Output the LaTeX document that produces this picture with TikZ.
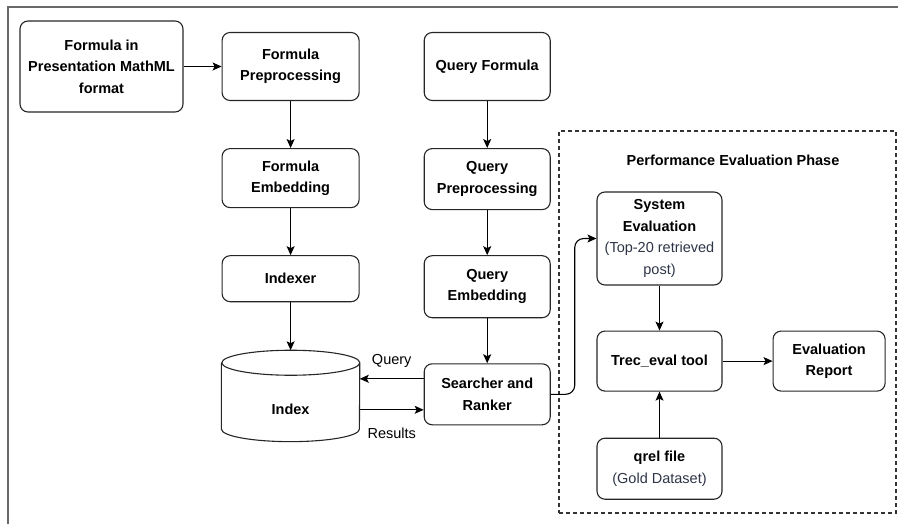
\documentclass[tikz,border=0pt]{standalone}
\usepackage{fontspec}
\setmainfont{Liberation Sans}
\usepackage{xcolor}
\usetikzlibrary{arrows.meta, positioning}
\definecolor{notegray}{RGB}{45,52,70}
\definecolor{framegray}{RGB}{105,105,105}
\newcommand{\diafont}{\fontsize{14.5}{21.5}\selectfont}
\tikzstyle{process} = [rectangle, rounded corners=8pt, text centered, align=center, draw=black!85, line width=1.1pt, font=\diafont\bfseries]
\tikzstyle{store} = [rectangle, minimum width=138pt, minimum height=91pt]
\tikzstyle{phase} = [rectangle, draw=black!80, line width=1.1pt, dash pattern=on 4pt off 3pt]
\tikzstyle{arrow} = [line width=1.1pt, ->, >={Stealth[length=9pt,width=8pt,inset=2pt]}]

\begin{document}
\begin{tikzpicture}[x=1pt, y=1pt, node distance=46pt, font=\diafont]
\useasboundingbox (0,0) rectangle (898,-524);

% outer frame
\draw[framegray, line width=2pt] (7.5,-524) -- (7.5,-7.5) -- (898,-7.5);

% Formula side
\node (mathml) [process, minimum width=163pt, minimum height=91pt] at (101.5,-66.5) {Formula in\\Presentation MathML\\format};
\node (fprep) [process, minimum width=137pt, minimum height=68pt, right=38pt of mathml] {Formula\\Preprocessing};
\node (fembed) [process, minimum width=137pt, minimum height=59pt, below=47pt of fprep] {Formula\\Embedding};
\node (indexer) [process, minimum width=137pt, minimum height=46pt, below=47pt of fembed] {Indexer};
\node (index) [store, below=48pt of indexer] {};
\draw [draw=black!85, line width=1.1pt] ([yshift=-12.5pt]index.north west) -- ([yshift=12.5pt]index.south west)
  arc[start angle=180, end angle=360, x radius=69pt, y radius=12.5pt] -- ([yshift=-12.5pt]index.north east)
  arc[start angle=0, end angle=360, x radius=69pt, y radius=12.5pt];
\node (indextxt) [font=\diafont\bfseries] at ([yshift=-13pt]index.center) {Index};

% Query side
\node (qformula) [process, minimum width=126pt, minimum height=68pt, right=64pt of fprep] {Query Formula};
\node (qprep) [process, minimum width=126pt, minimum height=61pt, below=47pt of qformula] {Query\\Preprocessing};
\node (qembed) [process, minimum width=126pt, minimum height=62pt, below=45pt of qprep] {Query\\Embedding};
\node (searcher) [process, minimum width=126pt, minimum height=61pt, below=45pt of qembed] {Searcher and\\Ranker};

% Evaluation phase
\node (phasebox) [phase, minimum width=337pt, minimum height=382pt] at (727.5,-322) {};
\node (phasetitle) [font=\diafont\bfseries] at (733,-160) {Performance Evaluation Phase};
\node (syseval) [process, minimum width=125pt, minimum height=93pt] at (659.5,-238.5) {System\\Evaluation\\{\mdseries\color{notegray}(Top-20 retrieved}\\{\mdseries\color{notegray}post)}};
\node (trec) [process, minimum width=125pt, minimum height=60pt, below=45pt of syseval] {Trec\_eval tool};
\node (evalrep) [process, minimum width=112pt, minimum height=60pt, right=50pt of trec] {Evaluation\\Report};
\node (qrel) [process, minimum width=125pt, minimum height=61pt, below=46pt of trec] {qrel file\\{\mdseries\color{notegray}(Gold Dataset)}};

% connectors
\draw [arrow] (mathml) -- (fprep);
\draw [arrow] (fprep) -- (fembed);
\draw [arrow] (fembed) -- (indexer);
\draw [arrow] (indexer) -- (index);
\draw [arrow] (qformula) -- (qprep);
\draw [arrow] (qprep) -- (qembed);
\draw [arrow] (qembed) -- (searcher);
\draw [arrow] ([yshift=15.5pt]searcher.west) -- ([yshift=15.5pt]searcher.west -| index.east) node [midway, above=7pt] (querylbl) {Query};
\draw [arrow] ([yshift=-15.5pt]searcher.west -| index.east) -- ([yshift=-15.5pt]searcher.west) node [midway, below=14pt] (resultslbl) {Results};
\draw [arrow, rounded corners=9pt] (searcher.east) -- ++(24pt,0) |- (syseval.west);
\draw [arrow] (syseval) -- (trec);
\draw [arrow] (trec) -- (evalrep);
\draw [arrow] (qrel) -- (trec);

\end{tikzpicture}
\end{document}
